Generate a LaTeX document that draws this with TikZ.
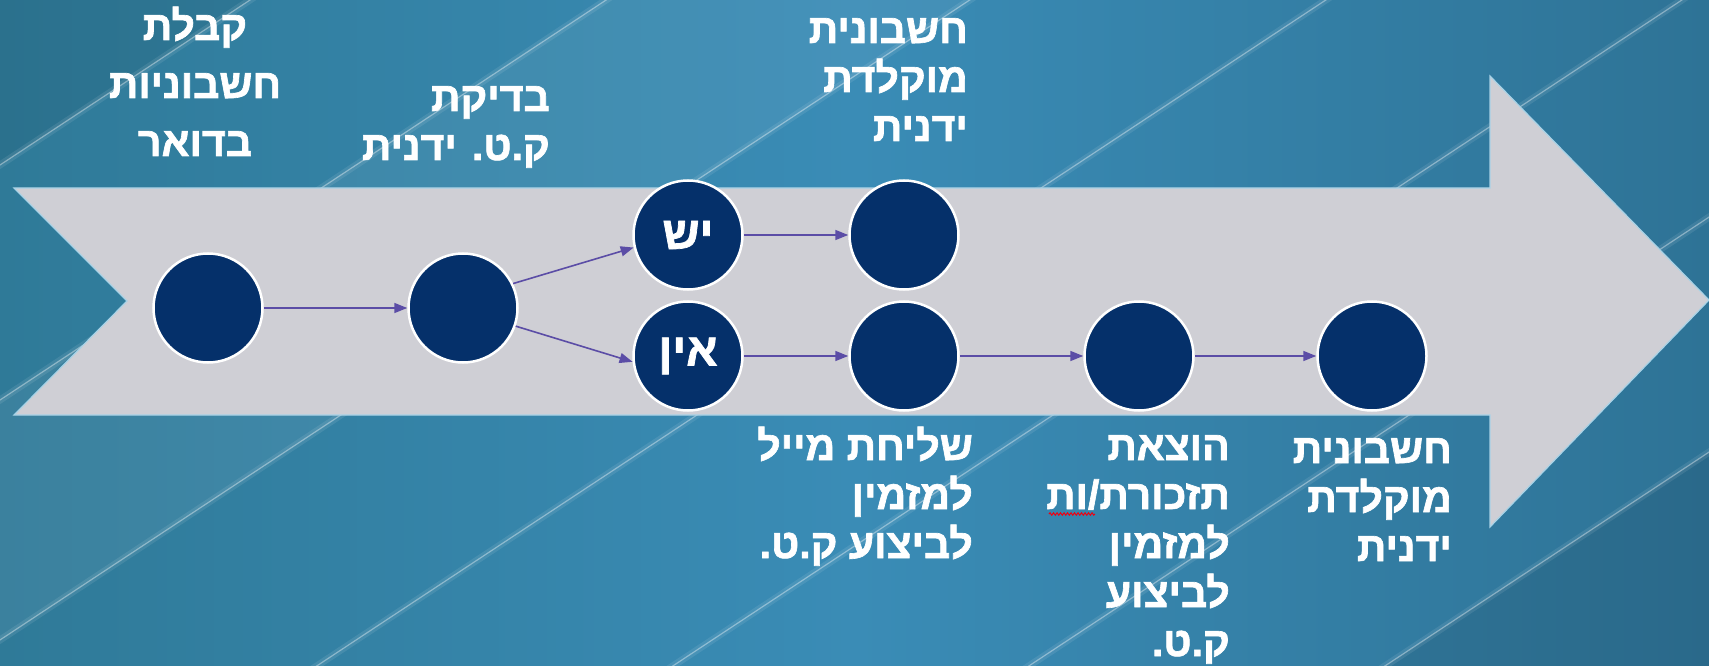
\documentclass[tikz,border=0pt]{standalone}
\usepackage{fontspec}
\newfontfamily\hebfont[Script=Hebrew, BoldFont={Liberation Sans Bold}, BoldFeatures={FakeBold=1.6}]{Liberation Sans}
\TeXXeTstate=1
\usetikzlibrary{arrows.meta,decorations.pathmorphing,calc}
\definecolor{bgL}{HTML}{2F7A98}
\definecolor{bgM}{HTML}{3A8CB6}
\definecolor{bgR}{HTML}{2E7396}
\definecolor{arrowgray}{HTML}{CFCFD5}
\definecolor{arrowedge}{HTML}{A8D2E6}
\definecolor{circfill}{HTML}{05306A}
\definecolor{connpurple}{HTML}{5B4DA6}
\newcommand\hl[1]{\beginR#1\endR}
\newcommand\rblock[1]{\vtop{\halign{\hfil##\cr#1\crcr}}}
\newcommand\cblock[1]{\vtop{\halign{\hfil##\hfil\cr#1\crcr}}}
\tikzset{
  stage/.style={circle, draw=white, line width=2.5pt, fill=circfill, minimum size=109pt, inner sep=0pt,
    text=white, font=\hebfont\bfseries\fontsize{46}{50}\selectfont},
  lbl/.style={text=white, inner sep=0pt, anchor=base east, font=\hebfont\bfseries\fontsize{41}{49}\selectfont},
  conn/.style={draw=connpurple, line width=1.6pt, -{Triangle[length=13pt,width=10pt]}},
  streak/.style={white, opacity=0.38, line width=1.2pt},
  glow/.style={white, opacity=0.09, line width=7pt},
  squig/.style={draw=red!75!purple, line width=1pt, decorate, decoration={snake, amplitude=1.2pt, segment length=3.5pt}}
}
\begin{document}
\begin{tikzpicture}[x=1pt, y=-1pt]
\useasboundingbox (0,0) rectangle (1709,666);
% background
\shade[left color=bgL, right color=bgR, middle color=bgM] (0,0) rectangle (1709,666);
\begin{scope}
  \clip (0,0) rectangle (1709,666);
  \fill[black, opacity=0.07] (0,-30) -- (0,165) -- ({(165+30)/0.66},-30) -- cycle;
  \fill[white, opacity=0.06] ({(400-700)/0.66},700) -- ({(400+30)/0.66},-30) -- ({(640+30)/0.66},-30) -- ({(640-700)/0.66},700) -- cycle;
  \fill[black, opacity=0.08] ({(1580-700)/0.66},700) -- ({(1580+30)/0.66},-30) -- (1800,-30) -- (1800,700) -- cycle;
  \foreach \c in {165,400,640,875,1110,1345,1580,1815} {
    \draw[glow] ({(\c-700)/0.66},700) -- ({(\c+30)/0.66},-30);
    \draw[streak] ({(\c-700)/0.66},700) -- ({(\c+30)/0.66},-30);
  }
\end{scope}
% big arrow
\filldraw[fill=arrowgray, draw=arrowedge, line width=1.2pt]
  (14,188) -- (1490,188) -- (1490,76) -- (1709,300) -- (1490,527) -- (1490,415) -- (14,415) -- (127,301) -- cycle;
% stages
\node[stage] (c1) at (208,308) {};
\node[stage] (c2) at (463,308) {};
\node[stage] (yes) at (688,235) {\hl{יש}};
\node[stage] (no) at (688,356) {\hl{אין}};
\node[stage] (t1) at (904,235) {};
\node[stage] (b1) at (904,356) {};
\node[stage] (h1) at (1139,356) {};
\node[stage] (l1) at (1372,356) {};
% connectors
\draw[conn] (c1) -- (c2);
\draw[conn] (c2.26) -- (yes.193);
\draw[conn] (c2.-19) -- (no.186);
\draw[conn] (yes) -- (t1);
\draw[conn] (no) -- (b1);
\draw[conn] (b1) -- (h1);
\draw[conn] (h1) -- (l1);
% labels
\node[lbl, anchor=base, font=\hebfont\bfseries\fontsize{41}{58}\selectfont] (tA) at (195,40) {\cblock{\hl{קבלת}\cr\hl{חשבוניות}\cr\hl{בדואר}}};
\node[lbl] (tB) at (550,111) {\rblock{\hl{בדיקת}\cr\hl{ק.ט. ידנית}}};
\node[lbl] (tC) at (968,43) {\rblock{\hl{חשבונית}\cr\hl{מוקלדת}\cr\hl{ידנית}}};
\node[lbl] (tD) at (973,460) {\rblock{\hl{שליחת מייל}\cr\hl{למזמין}\cr\hl{לביצוע ק.ט.}}};
\node[lbl] (tE) at (1230,460) {\rblock{\hl{הוצאת}\cr\hl{תזכורת/ות}\cr\hl{למזמין}\cr\hl{לביצוע}\cr\hl{ק.ט.}}};
\node[lbl] (tF) at (1452,463) {\rblock{\hl{חשבונית}\cr\hl{מוקלדת}\cr\hl{ידנית}}};
\coordinate (sq) at ($(tE.base west)+(3,54)$);
\draw[squig] (sq) -- ++(46,0);
\end{tikzpicture}
\end{document}
